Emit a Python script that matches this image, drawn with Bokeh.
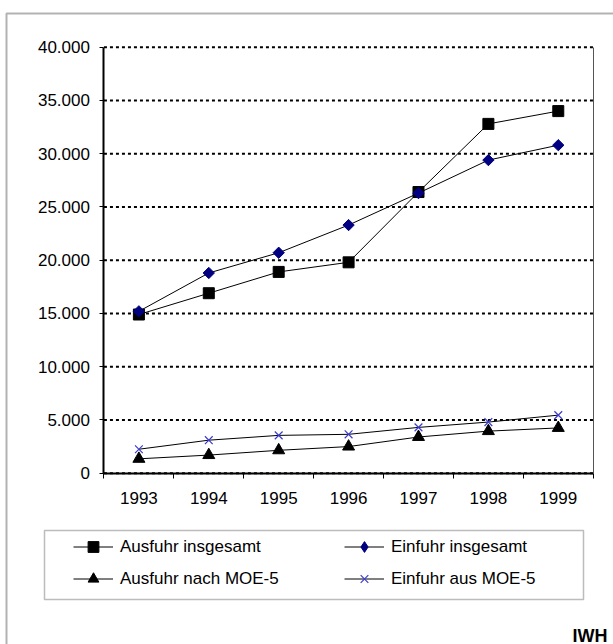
from bokeh.plotting import figure
from bokeh.models import (Range1d, FixedTicker, CustomJSTickFormatter, Legend, LegendItem,
                          BoxAnnotation, Label, LinearAxis, ColumnDataSource)
from bokeh.embed import file_html
from bokeh.resources import INLINE

years = [1993, 1994, 1995, 1996, 1997, 1998, 1999]
ausfuhr_insgesamt = [14900, 16900, 18900, 19800, 26400, 32800, 34000]
einfuhr_insgesamt = [15200, 18800, 20700, 23300, 26300, 29400, 30800]
ausfuhr_moe5 = [1350, 1700, 2150, 2500, 3400, 3950, 4250]
einfuhr_moe5 = [2250, 3100, 3550, 3650, 4300, 4800, 5450]
y_ticks = [0, 5000, 10000, 15000, 20000, 25000, 30000, 35000, 40000]
series_names = ["Ausfuhr insgesamt", "Einfuhr insgesamt", "Ausfuhr nach MOE-5", "Einfuhr aus MOE-5"]

FONT = "Liberation Sans"
FS = "17px"

x0, x1 = years[0] - 0.5, years[-1] + 0.5
y0, y1 = 0, 40000

# the frame covers the whole canvas; the axes are pinned inside it
p = figure(width=613, height=644, min_border=0,
           x_range=Range1d(1991.02, 1999.79), y_range=Range1d(-16085, 44385),
           output_backend="svg", toolbar_location=None, background_fill_color="white",
           border_fill_color="white", outline_line_color=None)

# dotted horizontal grid lines, limited to the plot area
grid_src = ColumnDataSource(dict(x0=[x0] * len(y_ticks), x1=[x1] * len(y_ticks),
                                 y=y_ticks))
p.segment(x0="x0", y0="y", x1="x1", y1="y", source=grid_src,
          line_color="black", line_width=2, line_dash="3 3")
p.xgrid.grid_line_color = None
p.ygrid.grid_line_color = None

# x axis
p.xaxis.fixed_location = y0
p.xaxis.bounds = (x0, x1)
p.xaxis.ticker = FixedTicker(ticks=years, minor_ticks=[y - 0.5 for y in years] + [x1])
p.xaxis.major_tick_out = 0
p.xaxis.major_tick_in = 0
p.xaxis.minor_tick_out = 5
p.xaxis.minor_tick_in = 0
p.xaxis.minor_tick_line_color = "black"
p.xaxis.minor_tick_line_width = 1
p.xaxis.axis_line_width = 2
p.xaxis.axis_line_color = "black"
p.xaxis.major_label_standoff = 14
p.xaxis.major_label_text_font = FONT
p.xaxis.major_label_text_font_size = FS
p.xaxis.major_label_text_color = "black"

# y axis
p.yaxis.fixed_location = x0
p.yaxis.bounds = (y0, y1)
p.yaxis.ticker = FixedTicker(ticks=y_ticks, minor_ticks=[])
p.yaxis.formatter = CustomJSTickFormatter(
    code="return tick.toFixed(0).replace(/\\B(?=(\\d{3})+(?!\\d))/g, '.');")
p.yaxis.major_tick_out = 4
p.yaxis.major_tick_in = 0
p.yaxis.major_tick_line_color = "black"
p.yaxis.axis_line_width = 2
p.yaxis.axis_line_color = "black"
p.yaxis.major_label_standoff = 10
p.yaxis.major_label_text_font = FONT
p.yaxis.major_label_text_font_size = FS
p.yaxis.major_label_text_color = "black"

# right border of the plot area
p.add_layout(LinearAxis(fixed_location=x1, bounds=(y0, y1), ticker=FixedTicker(ticks=[]),
                        axis_line_color="#555555", axis_line_width=1,
                        major_tick_line_color=None, minor_tick_line_color=None,
                        major_label_text_alpha=0), "right")

# series
l1 = p.line(years, ausfuhr_insgesamt, line_color="black", line_width=1)
s1 = p.scatter(years, ausfuhr_insgesamt, marker="square", size=11, fill_color="black", line_color="black")
l2 = p.line(years, einfuhr_insgesamt, line_color="black", line_width=1)
s2 = p.scatter(years, einfuhr_insgesamt, marker="square", angle=0.785398, size=8,
               fill_color="#000080", line_color="#000080")
l3 = p.line(years, ausfuhr_moe5, line_color="black", line_width=1)
s3 = p.scatter(years, ausfuhr_moe5, marker="triangle", size=12, fill_color="black", line_color="black")
l4 = p.line(years, einfuhr_moe5, line_color="black", line_width=1)
s4 = p.scatter(years, einfuhr_moe5, marker="x", size=11, line_color="#3c3cd0", line_width=1.2)

# legend-only diamond glyph (the legend does not rotate markers); its point is NaN, so not drawn
s2_leg = p.scatter(x=[float("nan")], y=[float("nan")], marker="diamond", size=13,
                   fill_color="#000080", line_color="#000080")


def mk_legend(items, loc):
    return Legend(items=items, location=loc, orientation="vertical",
                  border_line_alpha=0, background_fill_alpha=0, padding=0, margin=0,
                  spacing=5, glyph_width=40, glyph_height=27, label_height=27,
                  label_standoff=7, label_text_font=FONT, label_text_font_size=FS,
                  label_text_color="black")


leg_a = mk_legend([LegendItem(label=series_names[0], renderers=[l1, s1]),
                   LegendItem(label=series_names[2], renderers=[l3, s3])], (73, 52))
leg_b = mk_legend([LegendItem(label=series_names[1], renderers=[l2, s2_leg]),
                   LegendItem(label=series_names[3], renderers=[l4, s4])], (344, 52))
p.add_layout(leg_a, "center")
p.add_layout(leg_b, "center")

# legend frame
p.add_layout(BoxAnnotation(left=44, right=583, top=114, bottom=45,
                           left_units="screen", right_units="screen",
                           top_units="screen", bottom_units="screen",
                           fill_alpha=0, line_color="#222222", line_width=1.5))
# outer chart border
p.add_layout(BoxAnnotation(left=6, right=800, top=631, bottom=-100,
                           left_units="screen", right_units="screen",
                           top_units="screen", bottom_units="screen",
                           fill_alpha=0, line_color="black", line_width=2))

p.add_layout(Label(x=572, y=9, x_units="screen", y_units="screen", text="IWH",
                   text_font=FONT, text_font_style="bold", text_font_size="18px",
                   text_color="black", text_baseline="alphabetic"))

open("out.html", "w").write(file_html(p, INLINE))
